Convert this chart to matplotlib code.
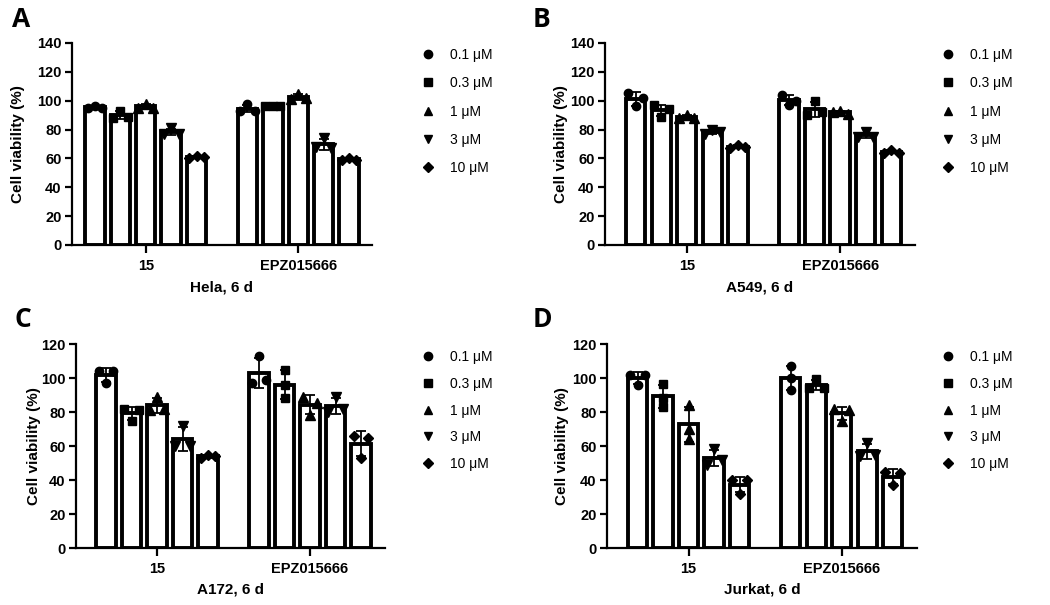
import matplotlib
matplotlib.use("Agg")
import matplotlib.pyplot as plt
from matplotlib.lines import Line2D
import numpy as np

plt.rcParams['font.family'] = ['Liberation Sans', 'DejaVu Sans']

# ---------------- data ----------------
groups = ["15", "EPZ015666"]
doses = ["0.1 μM", "0.3 μM", "1 μM", "3 μM", "10 μM"]
markers = ["o", "s", "^", "v", "D"]

# replicate values (3 per bar), order: doses for "15", then doses for "EPZ015666"
hela_15 = [[95, 96, 95], [88, 93, 89], [95, 98, 95], [77, 81, 77], [60, 62, 61]]
hela_epz = [[93, 97.5, 93], [96, 96.5, 96], [101, 105, 102], [68, 74, 67], [59, 60, 59]]

a549_15 = [[105.5, 96, 102], [97, 89, 94], [88, 90, 88], [77, 79.5, 78], [67, 69.5, 68]]
a549_epz = [[104, 97, 100], [100, 90, 92], [92, 93, 91], [75, 78, 75], [64, 66, 64]]

a172_15 = [[104, 97, 104], [82, 75, 81], [81, 89, 82], [60, 72, 60], [53, 55, 54]]
a172_epz = [[97, 113, 99], [104.5, 96, 88], [89, 78, 85.5], [80, 89, 82], [66, 53, 65]]

jurkat_15 = [[102, 96, 102], [83, 96.5, 88], [84, 70, 64], [49, 58, 52], [40, 32, 40]]
jurkat_epz = [[107, 100, 93], [94, 99.5, 94], [82, 75, 81], [54, 62, 55], [45, 37, 44]]

panels = [
    dict(letter="A", title="Hela, 6 d", g15=hela_15, gepz=hela_epz, ymax=140),
    dict(letter="B", title="A549, 6 d", g15=a549_15, gepz=a549_epz, ymax=140),
    dict(letter="C", title="A172, 6 d", g15=a172_15, gepz=a172_epz, ymax=120),
    dict(letter="D", title="Jurkat, 6 d", g15=jurkat_15, gepz=jurkat_epz, ymax=120),
]

# ---------------- layout (pixels) ----------------
W, H = 1050, 605
# left, right, top, bottom of each axes in pixel coords
boxes = [(72, 372, 43, 245), (605, 915, 43, 245), (76, 385, 344, 548), (607, 917, 344, 548)]
xlims = [(-0.9, 10.9), (-1.2, 10.93), (-1.18, 10.94), (-1.2, 10.95)]
ylabel_x = [18, 561, 34, 562]
letter_xy = [(12, 6), (533, 6), (14, 306), (533, 306)]
legend_xy = [(421, 48), (941, 48), (421, 350), (941, 350)]
legend_spacing = [1.03, 1.03, 0.92, 0.92]

fig = plt.figure(figsize=(W / 100, H / 100), dpi=100)

def swarm_offsets(vals, thr, step):
    vals = list(vals)
    n = len(vals)
    # cluster points that lie close in y
    order = sorted(range(n), key=lambda i: vals[i])
    clusters = [[order[0]]]
    for i in order[1:]:
        if vals[i] - vals[clusters[-1][-1]] < thr:
            clusters[-1].append(i)
        else:
            clusters.append([i])
    offs = [0.0] * n
    for c in clusters:
        c = sorted(c)
        k = len(c)
        if k == 1:
            continue
        if k == 2:
            offs[c[0]] = -step
            offs[c[1]] = step
        else:
            pos = np.linspace(-step, step, k)
            for j, idx in enumerate(c):
                offs[idx] = pos[j]
    return offs

bar_w = 0.76
for p, box, xl, ylx, lxy, gxy, ls in zip(panels, boxes, xlims, ylabel_x,
                                          letter_xy, legend_xy, legend_spacing):
    l, r, t, b = box
    ax = fig.add_axes([l / W, 1 - b / H, (r - l) / W, (b - t) / H])
    data = p["g15"] + p["gepz"]
    xs = list(range(5)) + list(range(6, 11))
    means = [np.mean(v) for v in data]
    sds = [np.std(v, ddof=1) for v in data]
    ax.bar(xs, means, width=bar_w, color="white", edgecolor="black",
           linewidth=2.8, zorder=2)
    ax.errorbar(xs, means, yerr=sds, fmt="none", ecolor="black",
                elinewidth=1.3, capsize=3.5, capthick=1.3, zorder=3)
    px_per_unit = (b - t) / p["ymax"]
    thr = 8.5 / px_per_unit
    for i, (x, vals) in enumerate(zip(xs, data)):
        m = markers[i % 5]
        offs = swarm_offsets(vals, thr, 0.29)
        ms = {"o": 6, "s": 5.5, "^": 6.5, "v": 6.5, "D": 4.8}[m]
        ax.plot([x + o for o in offs], vals, ls="none", marker=m, color="black",
                markersize=ms, zorder=4, clip_on=False)
    ax.set_xlim(*xl)
    ax.set_ylim(0, p["ymax"])
    ax.set_yticks(np.arange(0, p["ymax"] + 1, 20))
    ax.set_xticks([2, 8])
    ax.set_xticklabels(groups)
    for s in ["top", "right"]:
        ax.spines[s].set_visible(False)
    for s in ["left", "bottom"]:
        ax.spines[s].set_linewidth(1.6)
    ax.tick_params(axis="both", width=1.6, length=5, labelsize=10.5, pad=2.5)
    ax.tick_params(axis="x", length=6, pad=4)
    for lab in ax.get_xticklabels() + ax.get_yticklabels():
        lab.set_fontweight("bold")
    ax.set_ylabel("Cell viability (%)", fontsize=11, fontweight="bold")
    ax.yaxis.set_label_coords((ylx - l) / (r - l), 0.5)
    ax.yaxis.label.set_va("center")
    ax.set_xlabel(p["title"], fontsize=11, fontweight="bold")
    ax.xaxis.set_label_coords(0.5, -42 / (b - t))
    ax.xaxis.label.set_va("center")

    handles = [Line2D([], [], ls="none", marker=m, color="black",
                      markersize={"o": 6, "s": 5.5, "^": 6, "v": 6, "D": 4.8}[m])
               for m in markers]
    fig.legend(handles, doses, loc="upper left",
               bbox_to_anchor=(gxy[0] / W, 1 - gxy[1] / H),
               bbox_transform=fig.transFigure, frameon=False, fontsize=10,
               handlelength=1.0, handletextpad=1.1, labelspacing=ls,
               borderpad=0, borderaxespad=0)

    fig.text(lxy[0] / W, 1 - lxy[1] / H, p["letter"], fontsize=19,
             fontweight="bold", family=["Open Sans", "DejaVu Sans"],
             ha="left", va="top")

fig.savefig("out.png", dpi=100)
